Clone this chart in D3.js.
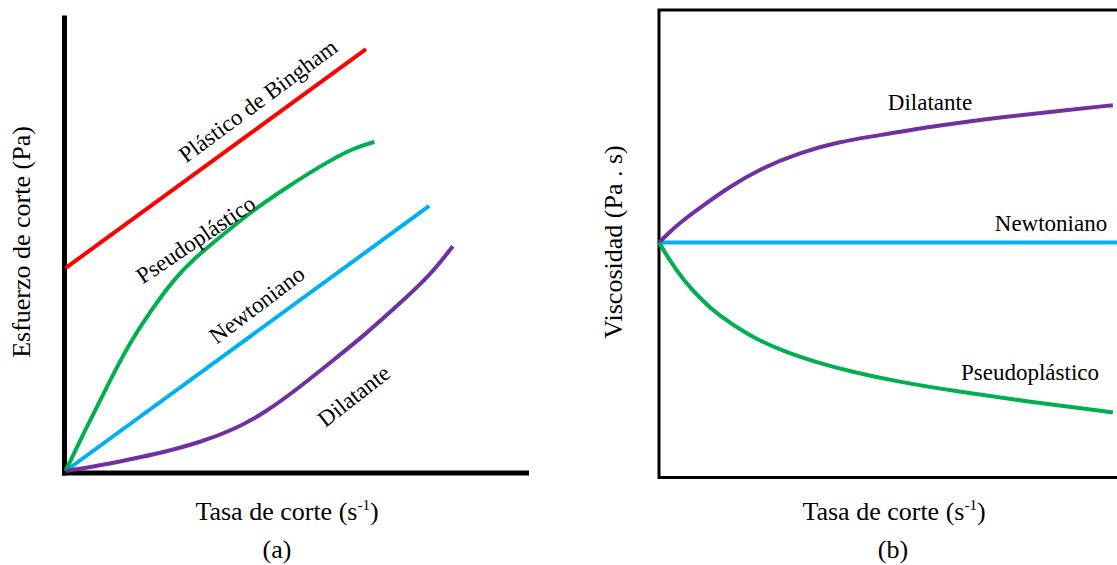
<!DOCTYPE html>
<html>
<head>
<meta charset="utf-8">
<script src="https://cdn.jsdelivr.net/npm/d3@7"></script>
<style>
  html, body { margin: 0; padding: 0; background: #fff; }
  svg { display: block; }
  text { font-family: "Liberation Serif", "Times New Roman", serif; fill: #000; }
</style>
</head>
<body>
<svg id="chart" width="1117" height="565"></svg>
<script>
// ---- Data: shear stress vs. shear rate (panel a) ----
const stressBinghamX = [0, 64.7];
const stressBinghamY = [44.4, 92.3];
const stressNewtonX = [0, 78.3];
const stressNewtonY = [0, 58.0];
const stressPseudoX = [0, 3.4, 7.1, 10.1, 13.3, 18.3, 23.2, 28.0, 33.3, 40.4, 47.7, 54.8, 61.9, 66.5];
const stressPseudoY = [0, 7.2, 14.7, 20.8, 27.1, 35.0, 41.8, 46.8, 51.2, 57.1, 62.1, 66.7, 70.7, 72.0];
const stressDilatX = [0, 7.5, 16.1, 22.6, 29.0, 36.1, 42.6, 50.5, 57.6, 64.9, 72.0, 78.5, 83.4];
const stressDilatY = [0, 1.2, 3.0, 4.5, 6.3, 9.0, 12.5, 18.4, 24.2, 30.2, 36.7, 42.8, 49.2];

// ---- Data: viscosity vs. shear rate (panel b) ----
const viscNewtonX = [0, 100];
const viscNewtonY = [50, 50];
const viscDilatX = [0, 2.2, 4.4, 9.0, 15.5, 22.1, 30.8, 39.5, 48.3, 61.4, 74.5, 87.6, 99.1];
const viscDilatY = [50, 52.1, 54.1, 57.5, 62.0, 65.8, 69.3, 71.6, 73.0, 75.1, 76.8, 78.2, 79.4];
const viscPseudoX = [0, 2.2, 5.2, 9.0, 12.7, 19.9, 27.1, 34.5, 41.7, 52.6, 65.1, 82.5, 99.1];
const viscPseudoY = [50, 46.4, 42.1, 38.0, 34.6, 29.9, 26.7, 24.3, 22.4, 20.1, 18.1, 15.7, 13.6];

// ---- Text ----
const labelsA = ["Plástico de Bingham", "Pseudoplástico", "Newtoniano", "Dilatante"];
const labelsB = ["Dilatante", "Newtoniano", "Pseudoplástico"];
const xTitle = "Tasa de corte (s";
const xTitleSup = "-1";
const yTitleA = "Esfuerzo de corte (Pa)";
const yTitleB = "Viscosidad (Pa . s)";
const panelTags = ["(a)", "(b)"];

const COLORS = { bingham: "#FF0000", pseudo: "#00B050", newton: "#00B0F0", dilat: "#7030A0" };

const svg = d3.select("#chart");
const zip = (xs, ys) => xs.map((x, i) => [x, ys[i]]);

// ================= Panel (a) =================
const xa = d3.scaleLinear().domain([0, 100]).range([65.5, 530]);
const ya = d3.scaleLinear().domain([0, 100]).range([471, 14]);
const gA = svg.append("g");

// axes: thick black L-shape
gA.append("line")
  .attr("x1", xa(0) - 1).attr("x2", xa(0) - 1)
  .attr("y1", ya(100) + 1.5).attr("y2", ya(0) + 4.5)
  .attr("stroke", "#000").attr("stroke-width", 5);
gA.append("line")
  .attr("x1", xa(0) - 3.5).attr("x2", xa(100) - 1)
  .attr("y1", ya(0) + 2).attr("y2", ya(0) + 2)
  .attr("stroke", "#000").attr("stroke-width", 5);

// smooth B-spline through the sampled points
const lineA = d3.line().x(d => xa(d[0])).y(d => ya(d[1])).curve(d3.curveBasis);
const seriesA = [
  { pts: zip(stressBinghamX, stressBinghamY), color: COLORS.bingham },
  { pts: zip(stressNewtonX, stressNewtonY), color: COLORS.newton },
  { pts: zip(stressPseudoX, stressPseudoY), color: COLORS.pseudo },
  { pts: zip(stressDilatX, stressDilatY), color: COLORS.dilat }
];
gA.selectAll("path.curve").data(seriesA).join("path")
  .attr("class", "curve")
  .attr("d", d => lineA(d.pts))
  .attr("fill", "none")
  .attr("stroke", d => d.color)
  .attr("stroke-width", 4);

// rotated curve labels
const labelPosA = [
  { x: 262.5, y: 107, r: -36.5 },
  { x: 200, y: 246, r: -34 },
  { x: 261.5, y: 311, r: -37 },
  { x: 358.5, y: 402, r: -38 }
];
gA.selectAll("text.lab").data(labelsA).join("text")
  .attr("class", "lab")
  .attr("text-anchor", "middle")
  .attr("font-size", 23)
  .attr("transform", (d, i) => `translate(${labelPosA[i].x},${labelPosA[i].y}) rotate(${labelPosA[i].r})`)
  .text(d => d);

// axis titles
function xTitleText(g, cx, by) {
  const t = g.append("text").attr("x", cx).attr("y", by).attr("text-anchor", "middle").attr("font-size", 26);
  t.append("tspan").text(xTitle);
  t.append("tspan").attr("font-size", 15).attr("dy", -10).text(xTitleSup);
  t.append("tspan").attr("dy", 10).text(")");
}
xTitleText(gA, 287, 520);
gA.append("text")
  .attr("text-anchor", "middle").attr("font-size", 26)
  .attr("transform", "translate(30,242) rotate(-90)")
  .text(yTitleA);
gA.append("text").attr("x", 277).attr("y", 558).attr("text-anchor", "middle").attr("font-size", 26).text(panelTags[0]);

// ================= Panel (b) =================
const xb = d3.scaleLinear().domain([0, 100]).range([659, 1117]);
const yb = d3.scaleLinear().domain([0, 100]).range([476, 9]);
const gB = svg.append("g");

// frame (right edge runs past the canvas)
gB.append("rect")
  .attr("x", xb(0)).attr("y", 10)
  .attr("width", 520).attr("height", 467.5)
  .attr("fill", "none").attr("stroke", "#000").attr("stroke-width", 3);

const lineB = d3.line().x(d => xb(d[0])).y(d => yb(d[1])).curve(d3.curveBasis);
const seriesB = [
  { pts: zip(viscNewtonX, viscNewtonY), color: COLORS.newton },
  { pts: zip(viscDilatX, viscDilatY), color: COLORS.dilat },
  { pts: zip(viscPseudoX, viscPseudoY), color: COLORS.pseudo }
];
gB.selectAll("path.curve").data(seriesB).join("path")
  .attr("class", "curve")
  .attr("d", d => lineB(d.pts))
  .attr("fill", "none")
  .attr("stroke", d => d.color)
  .attr("stroke-width", 4);

const labelPosB = [
  { x: 930, y: 110 },
  { x: 1051, y: 231 },
  { x: 1030, y: 380 }
];
gB.selectAll("text.lab").data(labelsB).join("text")
  .attr("class", "lab")
  .attr("text-anchor", "middle")
  .attr("font-size", 23)
  .attr("x", (d, i) => labelPosB[i].x)
  .attr("y", (d, i) => labelPosB[i].y)
  .text(d => d);

xTitleText(gB, 894, 520);
gB.append("text")
  .attr("text-anchor", "middle").attr("font-size", 26)
  .attr("transform", "translate(622,242) rotate(-90)")
  .text(yTitleB);
gB.append("text").attr("x", 893).attr("y", 558).attr("text-anchor", "middle").attr("font-size", 26).text(panelTags[1]);
</script>
</body>
</html>
